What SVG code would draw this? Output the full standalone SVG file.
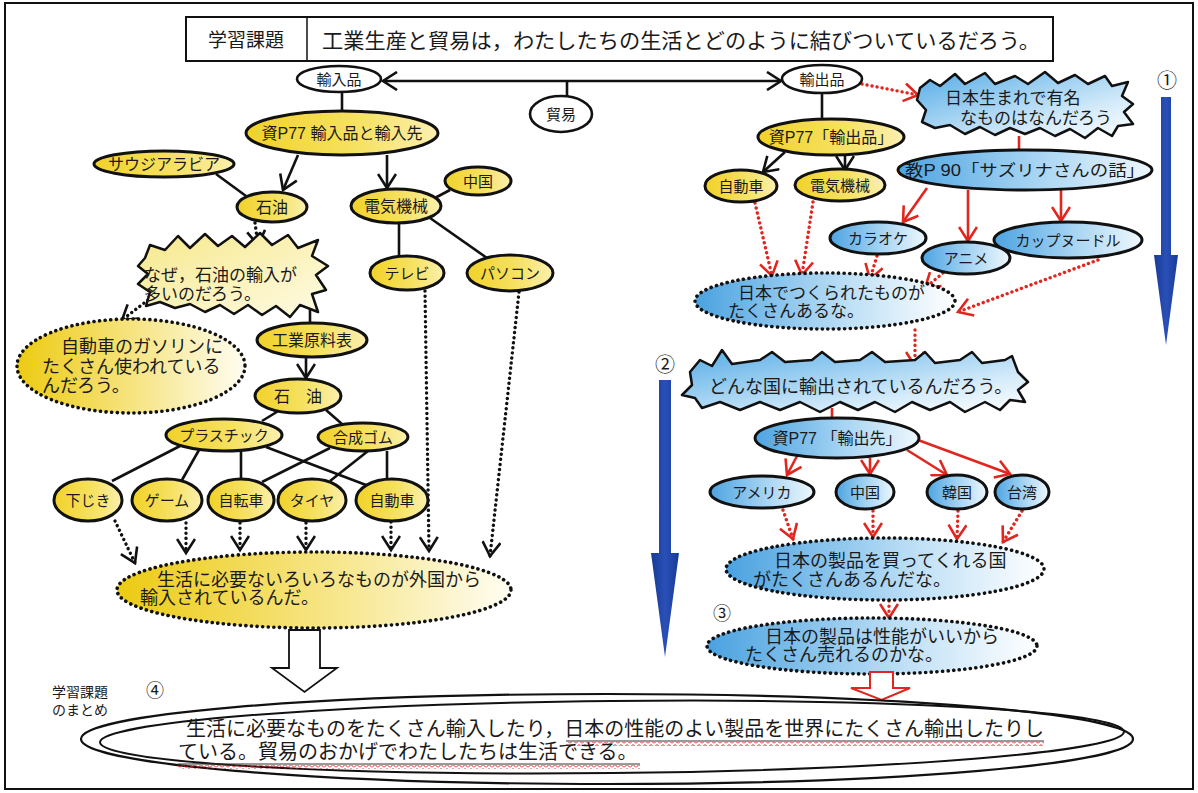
<svg xmlns="http://www.w3.org/2000/svg" width="1198" height="793" viewBox="0 0 1198 793">
<defs>
<style>
text{font-family:"Liberation Sans","Noto Sans CJK JP",sans-serif;fill:#1a1a1a}
.lbl{font-size:15px;text-anchor:middle;dominant-baseline:central}
.t17{font-size:17px;dominant-baseline:central}
.t18{font-size:18px;dominant-baseline:central}
.nW{fill:#fff;stroke:#111;stroke-width:2.6}
.nY{fill:url(#gY);stroke:#111;stroke-width:3}
.nB{fill:url(#gB);stroke:#111;stroke-width:3}
.dY{fill:url(#gYd);stroke:#111;stroke-width:3.6;stroke-dasharray:0.1 5.5;stroke-linecap:round}
.dB{fill:url(#gBd);stroke:#111;stroke-width:3.6;stroke-dasharray:0.1 5.5;stroke-linecap:round}
.k{fill:none;stroke:#111;stroke-width:2.6}
.r{fill:none;stroke:#e0261f;stroke-width:2.6}
.kd{fill:none;stroke:#111;stroke-width:3.4;stroke-dasharray:0.1 5;stroke-linecap:round}
.rd{fill:none;stroke:#e0261f;stroke-width:3.4;stroke-dasharray:0.1 5;stroke-linecap:round}
.num{font-size:20px;text-anchor:middle;dominant-baseline:central}
</style>
<linearGradient id="gY" x1="0" y1="0" x2="1" y2="0"><stop offset="0" stop-color="#f1d229"/><stop offset="0.6" stop-color="#f6e265"/><stop offset="1" stop-color="#fbf0b0"/></linearGradient>
<linearGradient id="gYd" x1="0" y1="0" x2="1" y2="0"><stop offset="0" stop-color="#eccb12"/><stop offset="0.55" stop-color="#f7e68a"/><stop offset="1" stop-color="#fffdf2"/></linearGradient>
<linearGradient id="gYb" x1="0" y1="0" x2="1" y2="1"><stop offset="0" stop-color="#f6e88a"/><stop offset="1" stop-color="#fffbe6"/></linearGradient>
<linearGradient id="gB" x1="0" y1="0" x2="1" y2="0"><stop offset="0" stop-color="#4da4e2"/><stop offset="0.55" stop-color="#a8d5f3"/><stop offset="1" stop-color="#eef7fd"/></linearGradient>
<linearGradient id="gBd" x1="0" y1="0" x2="1" y2="0"><stop offset="0" stop-color="#4aa2e0"/><stop offset="0.6" stop-color="#bfe0f6"/><stop offset="1" stop-color="#ffffff"/></linearGradient>
<linearGradient id="gBb" x1="0" y1="0" x2="1" y2="1"><stop offset="0" stop-color="#55abe6"/><stop offset="0.7" stop-color="#d6ecfa"/><stop offset="1" stop-color="#ffffff"/></linearGradient>
<linearGradient id="gArrow" x1="0" y1="0" x2="1" y2="0"><stop offset="0" stop-color="#173a94"/><stop offset="0.5" stop-color="#2a50b8"/><stop offset="1" stop-color="#173a94"/></linearGradient>
<marker id="ak" viewBox="0 0 20 20" refX="15" refY="10" markerWidth="20" markerHeight="20" markerUnits="userSpaceOnUse" orient="auto-start-reverse"><path d="M1,1 L15,10 L1,19" fill="none" stroke="#111" stroke-width="2.6"/></marker>
<marker id="ar" viewBox="0 0 20 20" refX="15" refY="10" markerWidth="20" markerHeight="20" markerUnits="userSpaceOnUse" orient="auto-start-reverse"><path d="M1,1 L15,10 L1,19" fill="none" stroke="#e0261f" stroke-width="2.6"/></marker>
<pattern id="wave" x="0" y="0" width="6" height="4" patternUnits="userSpaceOnUse"><path d="M0,3.5 L3,0.5 L6,3.5" fill="none" stroke="#d42020" stroke-width="1"/></pattern>
</defs>
<rect x="0" y="0" width="1198" height="793" fill="#fff"/>
<rect x="5" y="3" width="1188" height="786" fill="none" stroke="#111" stroke-width="2"/>

<g id="title">
<rect x="186" y="17" width="867" height="44" fill="#fff" stroke="#111" stroke-width="2"/>
<line x1="307" y1="17" x2="307" y2="61" stroke="#111" stroke-width="1.5"/>
<text x="246" y="40" style="font-size:19px;text-anchor:middle;dominant-baseline:central">学習課題</text>
<text x="322" y="40" style="font-size:21px;dominant-baseline:central" textLength="718" lengthAdjust="spacingAndGlyphs">工業生産と貿易は，わたしたちの生活とどのように結びついているだろう。</text>
</g>

<g id="connectors">
<path class="k" d="M383,81 L781,81" marker-start="url(#ak)" marker-end="url(#ak)"/>
<path class="k" d="M567,81 L567,96"/>
<path class="k" d="M342,92 L342,111"/>
<path class="k" d="M298,155 L283,190" marker-end="url(#ak)"/>
<path class="k" d="M387,155 L387,188" marker-end="url(#ak)"/>
<path class="k" d="M216,174 L246,196"/>
<path class="k" d="M450,190 L433,199"/>
<path class="k" d="M399,223 L399,256"/>
<path class="k" d="M430,218 L487,258"/>
<path class="k" d="M310,308 L310,323"/>
<path class="k" d="M306,357 L306,378" marker-end="url(#ak)"/>
<path class="k" d="M280,410 L262,421"/>
<path class="k" d="M326,410 L342,424"/>
<path class="k" d="M180,446 L112,481"/>
<path class="k" d="M199,450 L182,480"/>
<path class="k" d="M241,451 L241,479"/>
<path class="k" d="M266,447 L366,485"/>
<path class="k" d="M330,448 L262,482"/>
<path class="k" d="M368,451 L330,481"/>
<path class="k" d="M387,451 L387,479"/>
<path class="k" d="M822,93 L822,120"/>
<path class="k" d="M785,152 L763,172" marker-end="url(#ak)"/>
<path class="k" d="M845,155 L845,170" marker-end="url(#ak)"/>
<path class="kd" d="M255,223 L258,245" marker-end="url(#ak)"/>
<path class="kd" d="M152,297 L122,320" marker-end="url(#ak)"/>
<path class="kd" d="M115,521 L135,563" marker-end="url(#ak)"/>
<path class="kd" d="M186,523 L186,553" marker-end="url(#ak)"/>
<path class="kd" d="M240,523 L240,550" marker-end="url(#ak)"/>
<path class="kd" d="M306,523 L306,550" marker-end="url(#ak)"/>
<path class="kd" d="M391,522 L391,550" marker-end="url(#ak)"/>
<path class="kd" d="M425,291 L429,551" marker-end="url(#ak)"/>
<path class="kd" d="M519,292 L490,556" marker-end="url(#ak)"/>
<path class="r" d="M1019,136 L1019,150"/>
<path class="r" d="M927,188 L903,222" marker-end="url(#ar)"/>
<path class="r" d="M968,190 L968,241" marker-end="url(#ar)"/>
<path class="r" d="M1061,190 L1061,221" marker-end="url(#ar)"/>
<path class="r" d="M832,408 L832,418"/>
<path class="r" d="M797,456 L787,475" marker-end="url(#ar)"/>
<path class="r" d="M870,458 L870,474" marker-end="url(#ar)"/>
<path class="r" d="M907,450 L947,475" marker-end="url(#ar)"/>
<path class="r" d="M918,440 L1010,474" marker-end="url(#ar)"/>
<path class="rd" d="M862,84 L918,95" marker-end="url(#ar)"/>
<path class="rd" d="M755,203 L772,276" marker-end="url(#ar)"/>
<path class="rd" d="M813,202 L802,275" marker-end="url(#ar)"/>
<path class="rd" d="M877,256 L870,279" marker-end="url(#ar)"/>
<path class="rd" d="M943,273 L925,288" marker-end="url(#ar)"/>
<path class="rd" d="M1098,260 L958,312" marker-end="url(#ar)"/>
<path class="rd" d="M915,330 L915,366" marker-end="url(#ar)"/>
<path class="rd" d="M783,510 L793,539" marker-end="url(#ar)"/>
<path class="rd" d="M873,511 L873,537" marker-end="url(#ar)"/>
<path class="rd" d="M958,511 L957,539" marker-end="url(#ar)"/>
<path class="rd" d="M1022,511 L1003,542" marker-end="url(#ar)"/>
<path class="rd" d="M889,601 L889,618" marker-end="url(#ar)"/>
</g>

<g id="n-yunyuhin"><ellipse class="nW" cx="339" cy="79" rx="42" ry="13"/><text class="lbl" x="339" y="79">輸入品</text></g>
<g id="n-boeki"><ellipse class="nW" cx="561" cy="114" rx="31" ry="18"/><text class="lbl" x="561" y="114">貿易</text></g>
<g id="n-yushutsuhin"><ellipse class="nW" cx="822" cy="79" rx="40" ry="14"/><text class="lbl" x="822" y="79">輸出品</text></g>

<g id="n-shiryo-in"><ellipse class="nY" cx="342" cy="133" rx="96" ry="22"/><text class="lbl" x="342" y="133" style="font-size:16px">資P77 輸入品と輸入先</text></g>
<g id="n-saudi"><ellipse class="nY" cx="164" cy="164" rx="70" ry="13"/><text class="lbl" x="164" y="164" style="font-size:16px">サウジアラビア</text></g>
<g id="n-sekiyu1"><ellipse class="nY" cx="272" cy="207" rx="35" ry="15"/><text class="lbl" x="272" y="207" style="font-size:16px">石油</text></g>
<g id="n-denki1"><ellipse class="nY" cx="396" cy="206" rx="45" ry="17"/><text class="lbl" x="396" y="206" style="font-size:16px">電気機械</text></g>
<g id="n-china1"><ellipse class="nY" cx="478" cy="181" rx="33" ry="14"/><text class="lbl" x="478" y="181">中国</text></g>
<g id="n-tv"><ellipse class="nY" cx="407" cy="273" rx="37" ry="17"/><text class="lbl" x="407" y="273">テレビ</text></g>
<g id="n-pc"><ellipse class="nY" cx="510" cy="273" rx="43" ry="18"/><text class="lbl" x="510" y="273">パソコン</text></g>
<g id="n-naze">
<path d="M145,258 L150,245 L165,250 L178,236 L190,248 L205,234 L218,246 L232,236 L245,247 L260,233 L272,245 L288,235 L298,248 L318,240 L312,256 L328,266 L316,275 L326,290 L312,294 L318,312 L300,305 L290,317 L276,306 L262,315 L248,305 L234,314 L220,305 L205,312 L190,304 L175,308 L160,302 L146,306 L150,292 L138,284 L148,274 L138,266 Z" fill="url(#gYb)" stroke="#111" stroke-width="2.5" stroke-linejoin="round"/>
<text class="t17" x="144" y="275">なぜ，石油の輸入が</text>
<text class="t17" x="144" y="294">多いのだろう。</text>
</g>
<g id="n-gasoline"><ellipse class="dY" cx="131" cy="366" rx="114" ry="47"/>
<text class="t18" x="61" y="347">自動車のガソリンに</text>
<text class="t18" x="42" y="367">たくさん使われている</text>
<text class="t18" x="42" y="386">んだろう。</text></g>
<g id="n-genryo"><ellipse class="nY" cx="312" cy="340" rx="55" ry="17"/><text class="lbl" x="312" y="340" style="font-size:16px">工業原料表</text></g>
<g id="n-sekiyu2"><ellipse class="nY" cx="298" cy="396" rx="43" ry="17"/><text class="lbl" x="298" y="396" style="font-size:16px">石　油</text></g>
<g id="n-plastic"><ellipse class="nY" cx="224" cy="435" rx="58" ry="16"/><text class="lbl" x="224" y="435">プラスチック</text></g>
<g id="n-gomu"><ellipse class="nY" cx="363" cy="437" rx="45" ry="14"/><text class="lbl" x="363" y="437">合成ゴム</text></g>
<g id="n-shitajiki"><ellipse class="nY" cx="88" cy="500" rx="34" ry="21"/><text class="lbl" x="88" y="500">下じき</text></g>
<g id="n-game"><ellipse class="nY" cx="167" cy="500" rx="35" ry="21"/><text class="lbl" x="167" y="500">ゲーム</text></g>
<g id="n-jitensha"><ellipse class="nY" cx="241" cy="500" rx="33" ry="21"/><text class="lbl" x="241" y="500">自転車</text></g>
<g id="n-taiya"><ellipse class="nY" cx="312" cy="500" rx="34" ry="21"/><text class="lbl" x="312" y="500">タイヤ</text></g>
<g id="n-jidosha1"><ellipse class="nY" cx="392" cy="500" rx="36" ry="21"/><text class="lbl" x="392" y="500">自動車</text></g>
<g id="n-seikatsu"><ellipse class="dY" cx="314" cy="590" rx="197" ry="38"/>
<text class="t18" x="157" y="580" textLength="324" lengthAdjust="spacingAndGlyphs">生活に必要ないろいろなものが外国から</text>
<text class="t18" x="140" y="598">輸入されているんだ。</text></g>
<g id="block-arrow-left"><path d="M289,630 L320,630 L320,668 L337,668 L304.5,692 L272,668 L289,668 Z" fill="#fff" stroke="#111" stroke-width="1.8"/></g>

<g id="n-shiryo-out"><ellipse class="nY" cx="831" cy="137" rx="73" ry="18"/><text class="lbl" x="831" y="137" style="font-size:16px">資P77「輸出品」</text></g>
<g id="n-jidosha2"><ellipse class="nY" cx="741" cy="186" rx="36" ry="16"/><text class="lbl" x="741" y="186">自動車</text></g>
<g id="n-denki2"><ellipse class="nY" cx="840" cy="185" rx="45" ry="16"/><text class="lbl" x="840" y="185">電気機械</text></g>
<g id="n-bubble1">
<path d="M920,88 L930,80 L940,86 L955,74 L965,84 L985,73 L995,84 L1015,76 L1028,84 L1045,72 L1058,83 L1075,75 L1088,84 L1105,76 L1112,86 L1128,82 L1122,96 L1133,104 L1124,112 L1133,124 L1118,126 L1112,136 L1098,128 L1085,138 L1070,129 L1055,136 L1040,128 L1025,134 L1010,128 L995,135 L980,127 L965,134 L950,125 L935,128 L922,122 L926,110 L917,100 Z" fill="url(#gBb)" stroke="#111" stroke-width="2.5" stroke-linejoin="round"/>
<text class="t17" x="945" y="98">日本生まれで有名</text>
<text class="t17" x="960" y="118">なものはなんだろう</text>
</g>
<g id="step1"><text class="num" x="1167" y="81">①</text>
<path d="M1161,97 L1171,97 L1171,255 L1178,255 L1166,345 L1154,255 L1161,255 Z" fill="url(#gArrow)"/></g>
<g id="n-kyo"><ellipse class="nB" cx="1025" cy="170" rx="127" ry="20"/><text class="lbl" x="1025" y="170" style="font-size:16px" textLength="240" lengthAdjust="spacingAndGlyphs">教P 90「サズリナさんの話」</text></g>
<g id="n-karaoke"><ellipse class="nB" cx="878" cy="238" rx="48" ry="16"/><text class="lbl" x="878" y="238">カラオケ</text></g>
<g id="n-cup"><ellipse class="nB" cx="1068" cy="240" rx="74" ry="18"/><text class="lbl" x="1068" y="240">カップヌードル</text></g>
<g id="n-anime"><ellipse class="nB" cx="966" cy="258" rx="44" ry="16"/><text class="lbl" x="966" y="258">アニメ</text></g>
<g id="n-nihon"><ellipse class="dB" cx="825" cy="301" rx="130" ry="28"/>
<text class="t17" x="738" y="293">日本でつくられたものが</text>
<text class="t17" x="728" y="311">たくさんあるな。</text></g>
<g id="step2"><text class="num" x="665" y="365">②</text>
<path d="M659,380 L671,380 L671,553 L679,553 L665,657 L651,553 L659,553 Z" fill="url(#gArrow)"/></g>
<g id="n-bubble2">
<path d="M690,372 L700,360 L712,366 L722,350 L732,364 L760,360 L772,352 L785,362 L812,360 L822,352 L835,362 L860,360 L872,352 L885,362 L915,360 L925,352 L935,363 L960,360 L972,352 L982,363 L1005,360 L1012,356 L1018,372 L1028,382 L1018,390 L1025,402 L1010,400 L1000,410 L985,402 L965,412 L950,402 L930,410 L912,402 L895,412 L875,402 L858,410 L840,402 L820,412 L800,402 L780,410 L760,402 L740,410 L720,402 L702,408 L695,398 L682,395 L692,385 Z" fill="url(#gBb)" stroke="#111" stroke-width="2.5" stroke-linejoin="round"/>
<text class="t18" x="709" y="387">どんな国に輸出されているんだろう。</text>
</g>
<g id="n-shiryo-saki"><ellipse class="nB" cx="837" cy="438" rx="82" ry="20"/><text class="lbl" x="837" y="438" style="font-size:16px">資P77 「輸出先」</text></g>
<g id="n-america"><ellipse class="nB" cx="762" cy="492" rx="52" ry="16"/><text class="lbl" x="762" y="492">アメリカ</text></g>
<g id="n-china2"><ellipse class="nB" cx="865" cy="492" rx="29" ry="17"/><text class="lbl" x="865" y="492">中国</text></g>
<g id="n-korea"><ellipse class="nB" cx="957" cy="492" rx="30" ry="17"/><text class="lbl" x="957" y="492">韓国</text></g>
<g id="n-taiwan"><ellipse class="nB" cx="1022" cy="492" rx="27" ry="17"/><text class="lbl" x="1022" y="492">台湾</text></g>
<g id="n-kaute"><ellipse class="dB" cx="885" cy="569" rx="159" ry="31"/>
<text class="t18" x="774" y="561">日本の製品を買ってくれる国</text>
<text class="t18" x="753" y="580">がたくさんあるんだな。</text></g>
<g id="step3"><text class="num" x="722" y="614" style="font-size:18px">③</text></g>
<g id="n-seino"><ellipse class="dB" cx="872" cy="646" rx="165" ry="28"/>
<text class="t18" x="765" y="637">日本の製品は性能がいいから</text>
<text class="t18" x="745" y="655">たくさん売れるのかな。</text></g>
<g id="block-arrow-right"><path d="M870,672 L893,672 L893,688 L910,688 L881.5,700 L851,688 L870,688 Z" fill="#fff" stroke="#e0261f" stroke-width="2"/></g>

<g id="summary-label">
<text x="52" y="692" style="font-size:14px;dominant-baseline:central">学習課題</text>
<text x="155" y="691" style="font-size:18px;text-anchor:middle;dominant-baseline:central">④</text>
<text x="52" y="710" style="font-size:14px;dominant-baseline:central">のまとめ</text>
</g>
<g id="n-summary">
<ellipse cx="607" cy="739" rx="526" ry="45" fill="none" stroke="#111" stroke-width="2.2"/>
<ellipse cx="612" cy="737" rx="512" ry="36" fill="none" stroke="#111" stroke-width="2" transform="rotate(-0.6 612 737)"/>
<line x1="566" y1="741" x2="1044" y2="741" stroke="#333" stroke-width="1"/>
<rect x="566" y="742" width="478" height="4" fill="url(#wave)"/>
<line x1="178" y1="764" x2="640" y2="764" stroke="#333" stroke-width="1"/>
<rect x="178" y="765" width="462" height="4" fill="url(#wave)"/>
<text x="186" y="729" style="font-size:20px;dominant-baseline:central" textLength="858" lengthAdjust="spacingAndGlyphs">生活に必要なものをたくさん輸入したり，日本の性能のよい製品を世界にたくさん輸出したりし</text>
<text x="178" y="752" style="font-size:20px;dominant-baseline:central">ている。貿易のおかげでわたしたちは生活できる。</text>
</g>
</svg>
